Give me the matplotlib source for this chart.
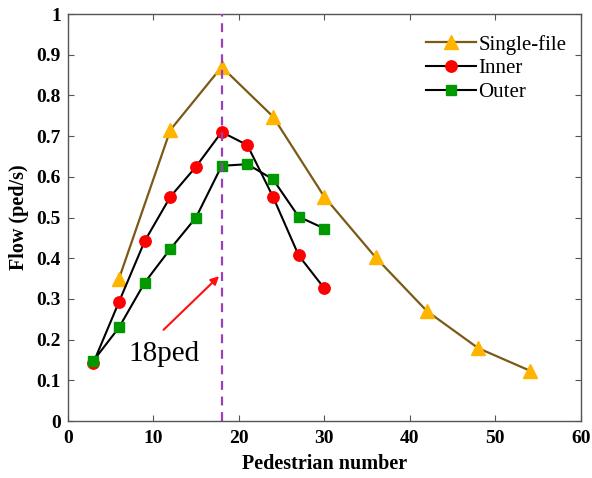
import matplotlib
matplotlib.use("Agg")
import matplotlib.pyplot as plt

plt.rcParams['font.family'] = ['Liberation Serif', 'DejaVu Serif']

# Flow vs. number of pedestrians
single_x = [6, 12, 18, 24, 30, 36, 42, 48, 54]
single_flow = [0.35, 0.715, 0.87, 0.748, 0.551, 0.402, 0.270, 0.179, 0.124]

inner_x = [3, 6, 9, 12, 15, 18, 21, 24, 27, 30]
inner_flow = [0.143, 0.293, 0.442, 0.551, 0.625, 0.710, 0.678, 0.551, 0.407, 0.326]

outer_x = [3, 6, 9, 12, 15, 18, 21, 24, 27, 30]
outer_flow = [0.148, 0.230, 0.340, 0.423, 0.500, 0.627, 0.631, 0.594, 0.502, 0.473]

critical_n = 18
x_ticks = [0, 10, 20, 30, 40, 50, 60]
y_ticks = [0, 0.1, 0.2, 0.3, 0.4, 0.5, 0.6, 0.7, 0.8, 0.9, 1]
y_tick_labels = ['0', '0.1', '0.2', '0.3', '0.4', '0.5', '0.6', '0.7', '0.8', '0.9', '1']

fig = plt.figure(figsize=(5.92, 4.78), dpi=100)
ax = fig.add_axes([0.1144, 0.1192, 0.8668, 0.8515])

ax.plot(single_x, single_flow, color='#7A5A14', lw=1.6, marker='^',
        ms=10, mfc='#FFB400', mec='#FFB400', label='Single-file', zorder=3)
ax.plot(inner_x, inner_flow, color='black', lw=1.5, marker='o',
        ms=8.2, mfc='#FF0000', mec='#FF0000', label='Inner', zorder=4)
ax.plot(outer_x, outer_flow, color='black', lw=1.5, marker='s',
        ms=6.8, mfc='#009A00', mec='#009A00', label='Outer', zorder=4)

ax.axvline(critical_n, color='#9B3FBF', lw=1.6, ls=(0, (4, 3)), zorder=5)

ax.annotate('', xy=(17.7, 0.356), xytext=(11.2, 0.224),
            arrowprops=dict(arrowstyle='-|>', color='#FF1010', lw=1.5,
                            mutation_scale=12, shrinkA=0, shrinkB=0))
ax.text(11.3, 0.165, '18ped', fontsize=21, ha='center', va='center')

ax.set_xlim(0, 60)
ax.set_ylim(0, 1)
ax.set_xticks(x_ticks)
ax.set_yticks(y_ticks)
ax.set_yticklabels(y_tick_labels)
ax.tick_params(direction='in', top=True, right=True, length=4,
               width=0.8, color='#555555', labelsize=14)
ax.tick_params(axis='x', pad=6.5)
ax.tick_params(axis='y', pad=5)
for lab in ax.get_xticklabels() + ax.get_yticklabels():
    lab.set_fontweight('bold')
for sp in ax.spines.values():
    sp.set_color('#555555')
    sp.set_linewidth(1.0)

ax.set_xlabel('Pedestrian number', fontsize=14.5, fontweight='bold', labelpad=5)
ax.set_ylabel('Flow (ped/s)', fontsize=14.5, fontweight='bold', labelpad=5)

ax.legend(loc='upper right', bbox_to_anchor=(1.0, 0.985), frameon=False,
          fontsize=15, handlelength=2.4, handletextpad=0.1,
          labelspacing=0.2, borderaxespad=0.3)

fig.savefig('out.png', dpi=100)
